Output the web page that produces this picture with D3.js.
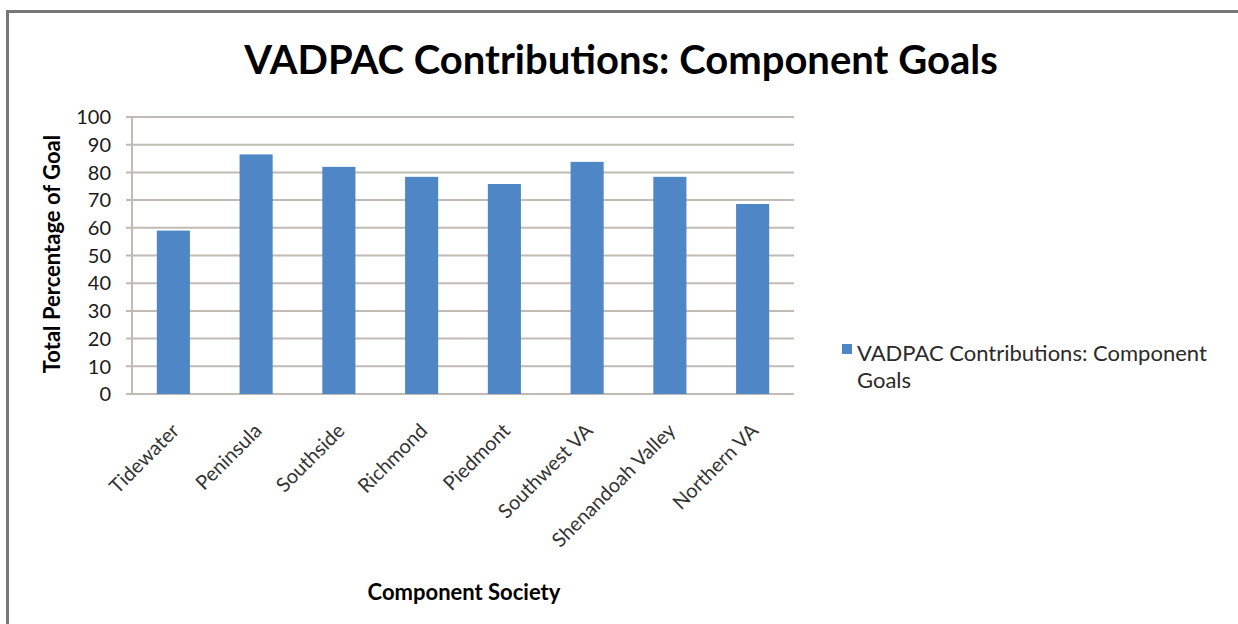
<!DOCTYPE html>
<html><head><meta charset="utf-8">
<script src="https://cdn.jsdelivr.net/npm/d3@7"></script>
<style>
html,body{margin:0;padding:0;background:#fff;}
svg{display:block;font-family:Lato,"Open Sans",sans-serif;}
</style></head>
<body>
<script>
const categories = ["Tidewater","Peninsula","Southside","Richmond","Piedmont","Southwest VA","Shenandoah Valley","Northern VA"];
const values = [59, 86.5, 82, 78.4, 75.8, 83.8, 78.4, 68.6];
const yTicks = [0,10,20,30,40,50,60,70,80,90,100];
const title = "VADPAC Contributions: Component Goals";
const seriesName = "VADPAC Contributions: Component Goals";
const legendLines = ["VADPAC Contributions: Component","Goals"];
const yTitle = "Total Percentage of Goal";
const xTitle = "Component Society";

const W = 1238, H = 624;
const svg = d3.select("body").append("svg").attr("width", W).attr("height", H);

// frame
svg.append("path").attr("d", `M7.5,${H} V11.5 H${W}`).attr("fill","none").attr("stroke","#777").attr("stroke-width",3);

const plot = {left:132, right:794, top:117, bottom:394};
const x = d3.scaleBand().domain(categories).range([plot.left, plot.right]).paddingInner(0.6).paddingOuter(0.3);
const y = d3.scaleLinear().domain([0,100]).range([plot.bottom, plot.top]);
const gridColor = "#c2bbb4";

// gridlines
svg.append("g").selectAll("line").data(yTicks).join("line")
  .attr("x1", plot.left - 6).attr("x2", plot.right)
  .attr("y1", d => y(d)).attr("y2", d => y(d))
  .attr("stroke", gridColor).attr("stroke-width", 2);
// y axis line
svg.append("line").attr("x1", plot.left).attr("x2", plot.left).attr("y1", plot.top).attr("y2", plot.bottom)
  .attr("stroke", gridColor).attr("stroke-width", 2);

// bars
const barColor = "#4f86c6";
svg.append("g").selectAll("rect").data(values).join("rect")
  .attr("x", (d,i) => x(categories[i]))
  .attr("width", x.bandwidth())
  .attr("y", d => y(d))
  .attr("height", d => y(0) - y(d))
  .attr("fill", barColor);

// y tick labels
svg.append("g").selectAll("text").data(yTicks).join("text")
  .attr("x", 111).attr("y", d => y(d)).attr("dy","0.36em")
  .attr("text-anchor","end").attr("font-size",20).attr("fill","#1a1a1a")
  .text(d => d);

// x tick labels
svg.append("g").selectAll("text").data(categories).join("text")
  .attr("transform", d => `translate(${x(d) + x.bandwidth()/2 + 7},${432}) rotate(-45)`)
  .attr("text-anchor","end").attr("font-size",20).attr("fill","#333")
  .text(d => d);

// title
svg.append("text").attr("x", 621).attr("y", 74).attr("text-anchor","middle")
  .attr("font-size", 40).attr("font-weight","bold").attr("fill","#000").text(title);

// axis titles
svg.append("text").attr("transform", `translate(60,254) rotate(-90)`).attr("text-anchor","middle")
  .attr("font-size",22).attr("font-weight","bold").attr("fill","#000").text(yTitle);
svg.append("text").attr("x", 464).attr("y", 600).attr("text-anchor","middle")
  .attr("font-size",22).attr("font-weight","bold").attr("fill","#000").text(xTitle);

// legend
const leg = svg.append("g").attr("aria-label", seriesName);
leg.append("rect").attr("x",842).attr("y",344).attr("width",10).attr("height",10).attr("fill",barColor);
leg.selectAll("text").data(legendLines).join("text")
  .attr("x",857).attr("y",(d,i)=>361 + i*27).attr("font-size",22).attr("fill","#2a2a2a").text(d=>d);
</script>
</body></html>
